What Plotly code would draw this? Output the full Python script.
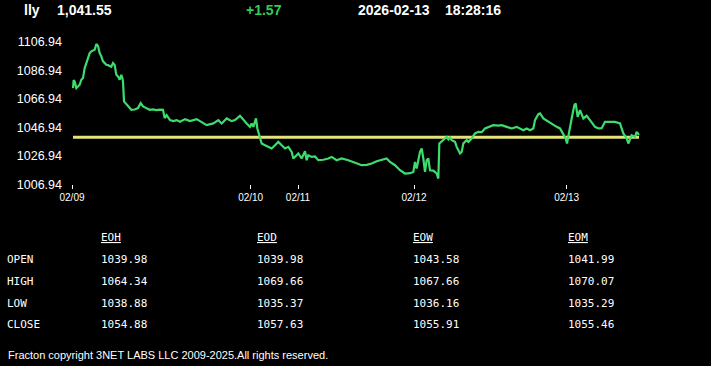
import plotly.graph_objects as go

# ---------------- data ----------------
symbol = "lly"
last_price = "1,041.55"
change = "+1.57"
date_str = "2026-02-13"
time_str = "18:28:16"

# time index (bars) and prices
t_idx = [3, 5, 8, 13, 18, 23, 28, 33, 38, 43, 48, 53, 58, 63, 68, 73, 78, 83, 88, 93,
         98, 103, 108, 113, 118, 123, 128, 133, 138, 143, 148, 151, 153, 156, 160, 168, 178, 188, 198, 206,
         213, 223, 233, 243, 253, 263, 273, 278, 284, 294, 304, 314, 324, 339, 354, 374, 384, 404, 424, 439,
         449, 464, 479, 489, 504, 514, 524, 534, 539, 544, 552, 556, 564, 569, 579, 589, 599, 609, 619, 629,
         639, 649, 659, 664, 669, 674, 679, 689, 699, 704, 709, 719, 729, 739, 754, 769, 779, 794, 809, 829,
         844, 859, 869, 884, 899, 914, 929, 944, 954, 969, 984, 999, 1014, 1024, 1029, 1034, 1044, 1049, 1054, 1059,
         1064, 1069, 1074, 1084, 1094, 1099, 1102, 1114, 1124, 1129, 1134, 1139, 1149, 1154, 1164, 1169, 1174, 1184, 1189, 1199,
         1209, 1219, 1229, 1239, 1254, 1264, 1279, 1289, 1304, 1319, 1334, 1344, 1354, 1364, 1374, 1384, 1389, 1399, 1404, 1414,
         1429, 1444, 1454, 1464, 1474, 1481, 1485, 1489, 1499, 1507, 1511, 1517, 1524, 1534, 1544, 1554, 1569, 1579, 1589, 1599,
         1614, 1629, 1644, 1654, 1664, 1669, 1679, 1689, 1694, 1701]
prices = [1074.40, 1080.02, 1079.11, 1074.40, 1075.46, 1076.72, 1080.24, 1081.43, 1088.46, 1091.97, 1096.68, 1099.00, 1100.19, 1100.60, 1101.32, 1105.32, 1103.92, 1099.00, 1096.68, 1093.16,
          1091.97, 1090.77, 1090.50, 1089.65, 1089.40, 1091.97, 1090.56, 1083.75, 1082.63, 1080.24, 1083.75, 1081.43, 1079.11, 1065.06, 1063.86, 1061.54, 1059.15, 1059.40, 1060.35, 1063.86,
          1061.54, 1060.35, 1059.15, 1059.50, 1059.00, 1059.30, 1059.15, 1053.32, 1055.43, 1051.92, 1051.21, 1051.92, 1050.72, 1052.62, 1051.21, 1052.62, 1051.21, 1048.40, 1049.60, 1051.92,
          1049.60, 1053.11, 1051.21, 1051.92, 1054.94, 1051.92, 1049.60, 1047.21, 1049.60, 1047.21, 1053.11, 1046.09, 1039.06, 1035.54, 1034.35, 1033.16, 1032.03, 1034.35, 1036.67, 1034.35,
          1032.03, 1033.16, 1029.64, 1025.00, 1026.13, 1027.32, 1028.52, 1025.00, 1030.13, 1023.81, 1027.32, 1026.13, 1026.40, 1023.81, 1024.10, 1025.00, 1026.13, 1023.81, 1025.00, 1023.81,
          1022.61, 1021.49, 1020.29, 1020.50, 1021.49, 1023.11, 1023.81, 1025.00, 1022.61, 1020.29, 1016.78, 1014.46, 1014.70, 1015.58, 1022.61, 1017.97, 1029.64, 1032.03, 1025.00, 1015.58,
          1023.81, 1025.00, 1016.78, 1016.50, 1014.46, 1010.95, 1035.54, 1037.86, 1040.18, 1038.36, 1039.76, 1037.86, 1036.67, 1033.16, 1028.52, 1029.64, 1035.54, 1037.86, 1036.67, 1039.06,
          1042.57, 1043.70, 1043.50, 1046.09, 1047.21, 1048.40, 1048.10, 1048.40, 1047.21, 1046.09, 1047.21, 1046.09, 1044.89, 1046.09, 1044.89, 1046.09, 1051.92, 1056.10, 1056.62, 1053.11,
          1050.72, 1048.40, 1047.21, 1046.09, 1041.38, 1039.06, 1035.54, 1041.38, 1053.11, 1062.46, 1063.65, 1054.24, 1058.94, 1053.11, 1054.94, 1051.92, 1047.21, 1046.09, 1046.30, 1050.72,
          1050.90, 1050.72, 1049.60, 1042.57, 1039.06, 1035.54, 1041.38, 1040.18, 1043.70, 1041.55]
reference_level = 1039.98

y_tick_vals = [1006.94, 1026.94, 1046.94, 1066.94, 1086.94, 1106.94]
x_tick_vals = [0, 536, 678, 1026, 1484]
x_tick_text = ["02/09", "02/10", "02/11", "02/12", "02/13"]

col_headers = ["EOH", "EOD", "EOW", "EOM"]
row_labels = ["OPEN", "HIGH", "LOW", "CLOSE"]
eoh = ["1039.98", "1064.34", "1038.88", "1054.88"]
eod = ["1039.98", "1069.66", "1035.37", "1057.63"]
eow = ["1043.58", "1067.66", "1036.16", "1055.91"]
eom = ["1041.99", "1070.07", "1035.29", "1055.46"]
footer = "Fracton copyright 3NET LABS LLC 2009-2025.All rights reserved."

# ---------------- layout helpers ----------------
W, H = 711, 366
def px(x):
    return x / W
def py(y):
    return 1 - y / H

GREEN = "#3ddc6e"
YELLOW = "#e4e37a"
SANS = "Liberation Sans, Arial, sans-serif"
MONO = "DejaVu Sans Mono, monospace"

fig = go.Figure()
fig.add_trace(go.Scatter(x=[t_idx[0], t_idx[-1]], y=[reference_level, reference_level],
                         mode="lines", line=dict(color=YELLOW, width=3), hoverinfo="skip"))
fig.add_trace(go.Scatter(x=t_idx, y=prices, mode="lines",
                         line=dict(color=GREEN, width=2.2), hoverinfo="skip"))

ann = []
def text(x, y, s, size, color="white", family=SANS, bold=False, xanchor="left", under=False):
    f = dict(size=size, color=color, family=family)
    if bold:
        f["weight"] = "bold"
    if under:
        f["lineposition"] = "under"
    ann.append(dict(x=px(x), y=py(y), xref="paper", yref="paper", text=s, showarrow=False,
                    xanchor=xanchor, yanchor="middle", font=f, borderpad=0))

text(23, 10, symbol, 14, bold=True)
text(56, 10, last_price, 14, bold=True)
text(245, 10, change, 14, color="#33cc55", bold=True)
text(357, 10, date_str, 14, bold=True)
text(444, 10, time_str, 14, bold=True)

col_x = [100, 256, 412, 567]
row_y = [259, 281, 303, 324]
for cx, h in zip(col_x, col_headers):
    text(cx, 238, h, 11, family=MONO, under=True)
for ry, lab in zip(row_y, row_labels):
    text(6, ry, lab, 11, family=MONO)
for cx, col in zip(col_x, [eoh, eod, eow, eom]):
    for ry, v in zip(row_y, col):
        text(cx, ry, v, 11, family=MONO)
text(7, 355, footer, 11)

x0_px, x1_px = 63, 650
fig.update_layout(
    width=W, height=H,
    margin=dict(l=0, r=0, t=0, b=0, autoexpand=False),
    paper_bgcolor="black", plot_bgcolor="black",
    showlegend=False,
    annotations=ann,
    xaxis=dict(domain=[px(x0_px), px(x1_px)], range=[(x0_px - 72) * 3, (x1_px - 72) * 3],
               automargin=False,
               showgrid=False, zeroline=False, showline=False,
               tickmode="array", tickvals=x_tick_vals, ticktext=x_tick_text,
               ticks="outside", ticklen=4, tickcolor="white", tickwidth=1,
               tickfont=dict(size=10, color="white", family=SANS)),
    yaxis=dict(domain=[py(184.3), py(34.5)], range=[1006.9, 1112],
               automargin=False,
               showgrid=False, zeroline=False, showline=False,
               tickmode="array", tickvals=y_tick_vals,
               ticktext=[f"{v:.2f}" for v in y_tick_vals], ticks="",
               tickfont=dict(size=12.5, color="white", family=SANS)),
)
fig.write_html("out.html")
